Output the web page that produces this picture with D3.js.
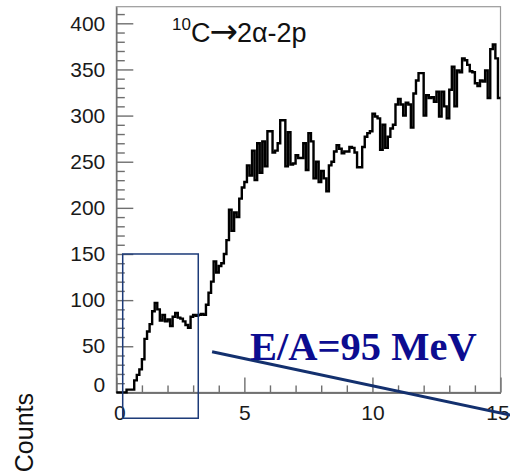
<!DOCTYPE html>
<html>
<head>
<meta charset="utf-8">
<script src="https://cdn.jsdelivr.net/npm/d3@7"></script>
<style>
  html, body { margin: 0; padding: 0; background: #fff; }
  svg { display: block; }
</style>
</head>
<body>
<svg id="chart" width="510" height="474"></svg>
<script>
// Histogram: counts per 0.1-wide bin, from 0 to 15
const binLow = 0;
const binWidth = 0.1;
const counts = [
  0, 0, 0, 0, 3, 3, 3, 13, 19, 25,
  36, 58, 66, 74, 88, 97, 90, 78, 84, 77,
  79, 72, 82, 86, 81, 80, 77, 73, 70, 82,
  84, 83, 84, 85, 84, 95, 108, 120, 142, 130,
  137, 140, 150, 165, 198, 175, 195, 190, 210, 222,
  228, 246, 235, 262, 230, 270, 238, 272, 245, 283,
  283, 260, 262, 270, 295, 295, 245, 282, 247, 248,
  257, 254, 254, 270, 241, 281, 272, 232, 250, 228,
  240, 232, 218, 246, 250, 261, 268, 264, 259, 261,
  261, 266, 265, 260, 244, 244, 266, 277, 281, 283,
  302, 299, 297, 263, 290, 265, 277, 286, 290, 312,
  318, 312, 300, 314, 312, 287, 324, 338, 346, 346,
  300, 322, 319, 320, 315, 326, 299, 326, 310, 297,
  328, 353, 310, 349, 347, 362, 360, 355, 348, 347,
  335, 332, 338, 337, 349, 319, 372, 377, 362, 319
];

// Axis ticks
const xMajorTicks = [0, 5, 10, 15];
const xMinorTicks = [1, 2, 3, 4, 6, 7, 8, 9, 11, 12, 13, 14];
const yMajorTicks = [0, 50, 100, 150, 200, 250, 300, 350, 400];
const yMinorTicks = d3.range(10, 411, 10).filter(v => v % 50 !== 0);

// Annotations in data units
const boxX = [0.25, 3.2];
const boxY = [150, -28];
const leaderFrom = [3.74, 44];
const leaderTo = [15.8, -27];
const energyLabel = "E/A=95 MeV";

const svg = d3.select("#chart");

const x = d3.scaleLinear().domain([0, 15]).range([116.3, 500.5]);
const y = d3.scaleLinear().domain([0, 418]).range([392.4, 6.7]);

const axisColor = "#6f6f6f";
const sans = "'Liberation Sans', Arial, sans-serif";

// Frame
svg.append("rect")
  .attr("x", x(0)).attr("y", y(418))
  .attr("width", x(15) - x(0)).attr("height", y(0) - y(418))
  .attr("fill", "none").attr("stroke", "#9a9a9a").attr("stroke-width", 1.2);

function styleAxis(g) {
  g.select(".domain").attr("stroke", axisColor).attr("stroke-width", 1.5);
  g.selectAll(".tick line").attr("stroke", axisColor).attr("stroke-width", 1.4);
  g.selectAll("text")
    .attr("fill", "#1a1a1a")
    .style("font-family", sans)
    .style("font-size", "21px");
}

// x axis: minor then major ticks (inward)
svg.append("g")
  .attr("transform", `translate(0,${y(0)})`)
  .call(d3.axisBottom(x).tickValues(xMinorTicks).tickSizeInner(-7).tickSizeOuter(0).tickFormat(""))
  .call(styleAxis);
const gx = svg.append("g")
  .attr("transform", `translate(0,${y(0)})`)
  .call(d3.axisBottom(x).tickValues(xMajorTicks).tickSizeInner(-15).tickSizeOuter(0).tickPadding(13).tickFormat(d3.format("d")))
  .call(styleAxis);
gx.selectAll(".tick text").attr("dx", d => d === 0 ? 3 : (d === 15 ? -3 : 0));

// y axis: minor then major ticks (inward)
svg.append("g")
  .attr("transform", `translate(${x(0)},0)`)
  .call(d3.axisLeft(y).tickValues(yMinorTicks).tickSizeInner(-8.5).tickSizeOuter(0).tickFormat(""))
  .call(styleAxis);
const gy = svg.append("g")
  .attr("transform", `translate(${x(0)},0)`)
  .call(d3.axisLeft(y).tickValues(yMajorTicks).tickSizeInner(-17).tickSizeOuter(0).tickPadding(11).tickFormat(d3.format("d")))
  .call(styleAxis);
gy.select(".domain").remove();
gy.selectAll(".tick text").attr("dy", d => d === 0 ? "-0.02em" : "0.32em");

// Histogram outline
const pts = counts.map((c, i) => [binLow + i * binWidth, c]);
pts.push([binLow + counts.length * binWidth, counts[counts.length - 1]]);
svg.append("path")
  .datum(pts)
  .attr("fill", "none")
  .attr("stroke", "#000")
  .attr("stroke-width", 2.4)
  .attr("stroke-linejoin", "miter")
  .attr("d", d3.line().x(d => x(d[0])).y(d => y(d[1])).curve(d3.curveStepAfter));

// Title: 10C -> 2 alpha - 2p
const title = svg.append("text")
  .attr("x", 172).attr("y", 41.5)
  .attr("fill", "#111")
  .style("font-family", sans);
title.append("tspan").text("10").style("font-size", "17px").attr("dy", -12);
title.append("tspan").text("C").style("font-size", "27px").attr("dy", 12);
title.append("tspan").text("\u2192")
  .style("font-family", "'DejaVu Sans', sans-serif")
  .style("font-size", "34px").attr("dy", 1.5).attr("dx", -1);
title.append("tspan").text("2\u03b1-2p").style("font-size", "27px").attr("dy", -1.5).attr("dx", -1);

// y axis title
svg.append("text")
  .attr("transform", `translate(33,393) rotate(-90)`)
  .attr("text-anchor", "end")
  .attr("fill", "#111")
  .style("font-family", sans)
  .style("font-size", "25px")
  .text("Counts");

// Highlight box around the low-energy region
svg.append("rect")
  .attr("x", x(boxX[0])).attr("y", y(boxY[0]))
  .attr("width", x(boxX[1]) - x(boxX[0]))
  .attr("height", y(boxY[1]) - y(boxY[0]))
  .attr("fill", "none").attr("stroke", "#1c3a78").attr("stroke-width", 1.5);

// Leader line
svg.append("line")
  .attr("x1", x(leaderFrom[0])).attr("y1", y(leaderFrom[1]))
  .attr("x2", x(leaderTo[0])).attr("y2", y(leaderTo[1]))
  .attr("stroke", "#13306e").attr("stroke-width", 3);

// Beam energy label
svg.append("text")
  .attr("x", 250).attr("y", 360)
  .attr("fill", "#0c0c90")
  .style("font-family", "'Liberation Serif', 'Times New Roman', serif")
  .style("font-weight", "bold")
  .style("font-size", "40.5px")
  .text(energyLabel);
</script>
</body>
</html>
